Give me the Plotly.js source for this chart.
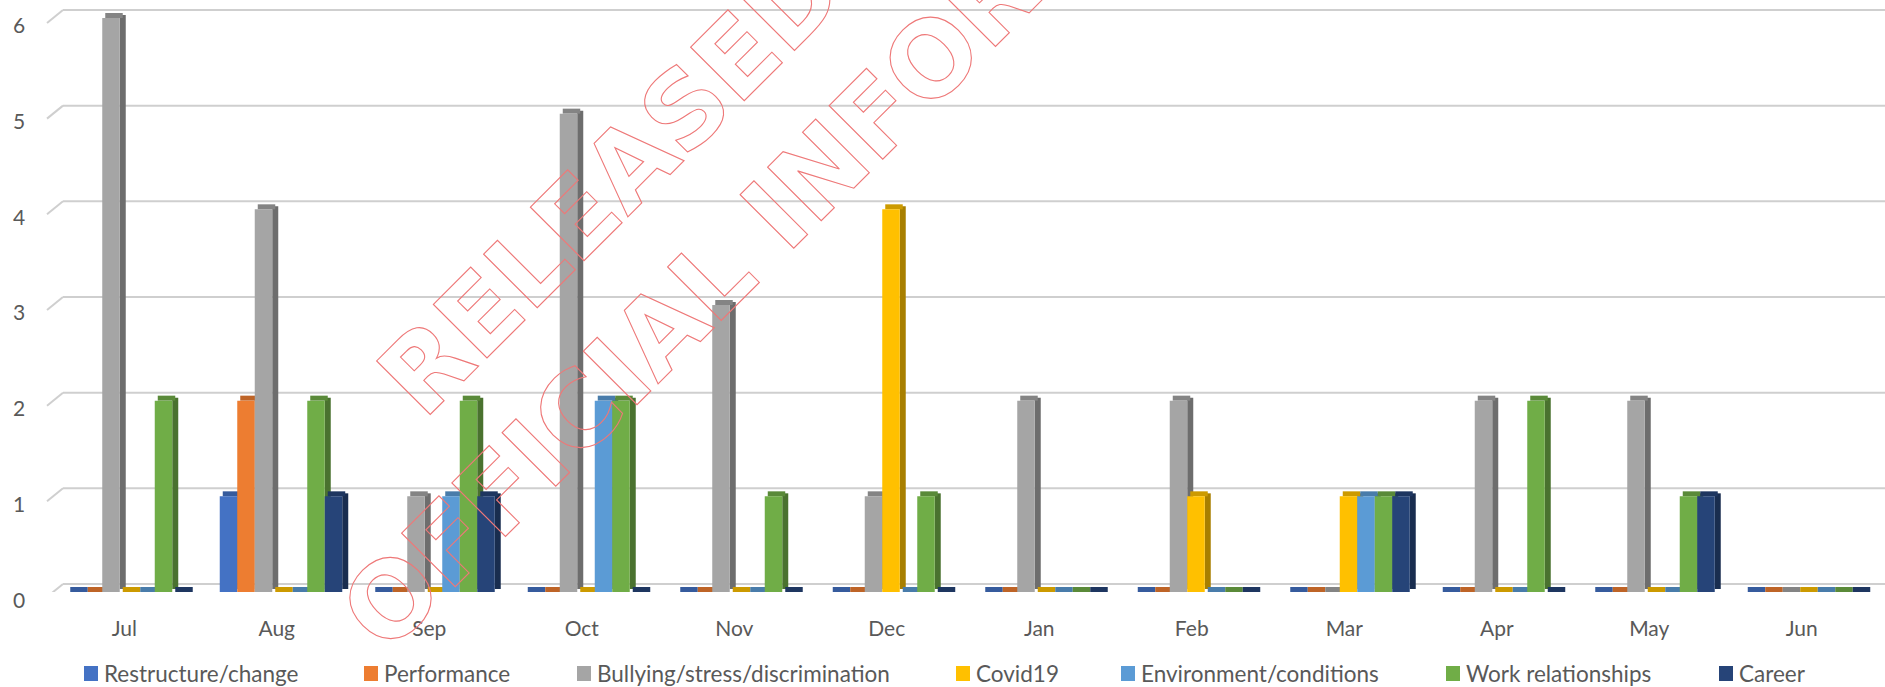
<!DOCTYPE html>
<html><head><meta charset="utf-8">
<script src="https://cdn.plot.ly/plotly-3.0.1.min.js"></script>
<style>html,body{margin:0;padding:0;background:#fff;overflow:hidden;} #chart{width:1885px;height:687px;}</style>
</head><body><div id="chart"></div>
<script>
// ---- data ----
const months = ['Jul','Aug','Sep','Oct','Nov','Dec','Jan','Feb','Mar','Apr','May','Jun'];
const seriesNames = ['Restructure/change','Performance','Bullying/stress/discrimination','Covid19','Environment/conditions','Work relationships','Career'];
const restructureChange = [0,1,0,0,0,0,0,0,0,0,0,0];
const performance       = [0,2,0,0,0,0,0,0,0,0,0,0];
const bullying          = [6,4,1,5,3,1,2,2,0,2,2,0];
const covid19           = [0,0,0,0,0,4,0,1,1,0,0,0];
const environment       = [0,0,1,2,0,0,0,0,1,0,0,0];
const workRelationships = [2,2,2,2,1,1,0,0,1,2,1,0];
const career            = [0,1,1,0,0,0,0,0,1,0,1,0];
const yTickValues = [0,1,2,3,4,5,6];
const watermarkLines = ['RELEASED UNDER THE','OFFICIAL INFORMATION ACT'];

// ---- styling ----
const seriesValues = [restructureChange, performance, bullying, covid19, environment, workRelationships, career];
const frontColors = ['#4472C4','#ED7D31','#A5A5A5','#FFC000','#5B9BD5','#70AD47','#264478'];
function shade(hex, f){
  const n = parseInt(hex.slice(1),16);
  const r = Math.round(((n>>16)&255)*f), g = Math.round(((n>>8)&255)*f), b = Math.round((n&255)*f);
  return 'rgb('+r+','+g+','+b+')';
}
const sideColors = frontColors.map(c => shade(c,0.66));
const topColors = frontColors.map(c => shade(c,0.8));

const W = 1885, H = 687, ML = 55, MR = 0, MT = 0, MB = 95;
const plotW = W - ML - MR, plotH = H - MT - MB;
const yMax = 6.188;
const ppu = plotH / yMax;              // pixels per value unit
const ppc = plotW / months.length;     // pixels per category
const pxX = px => (px - ML) / plotW;   // pixel -> paper x
const pxY = py => (MT + plotH - py) / plotH; // pixel -> paper y
const barPx = 17.5, groupLeftPx = -64, sidePx = 6, topPx = 5;
const bw = barPx / ppc;
const textColor = '#595959';
const fontFam = 'Lato, "Open Sans", sans-serif';

const sideTraces = [], topTraces = [], frontTraces = [];
seriesValues.forEach((vals, i) => {
  const off = (groupLeftPx + i * barPx) / ppc;
  sideTraces.push({type:'bar', x: months, y: vals, base: 3/ppu, offset: off + bw, width: sidePx/ppc,
    marker:{color: sideColors[i], line:{width:0}}, showlegend:false, hoverinfo:'skip'});
  topTraces.push({type:'bar', x: months, y: vals.map(() => topPx/ppu), base: vals, offset: off + 3/ppc, width: bw,
    marker:{color: topColors[i], line:{width:0}}, showlegend:false, hoverinfo:'skip'});
  frontTraces.push({type:'bar', name: seriesNames[i], x: months, y: vals, base: 0, offset: off, width: bw,
    marker:{color: frontColors[i], line:{width:0}}, showlegend:false});
});
const traces = sideTraces.concat(topTraces, frontTraces);

const shapes = [];
const gridColor = '#cfcfcf';
yTickValues.forEach(k => {
  shapes.push({type:'line', layer:'below', xref:'paper', yref:'y', x0: pxX(63), x1: 1, y0: k + 8/ppu, y1: k + 8/ppu, line:{color:gridColor, width:2}});
  shapes.push({type:'line', layer:'below', xref:'paper', yref:'y', x0: pxX(47), x1: pxX(63), y0: k - 5/ppu, y1: k + 8/ppu, line:{color:gridColor, width:2}});
});
// floor front edge
shapes.push({type:'line', layer:'below', xref:'paper', yref:'y', x0: pxX(47), x1: pxX(1880), y0: -2/ppu, y1: -2/ppu, line:{color:gridColor, width:2}});

const annotations = [];
// watermark (two lines)
const wmFont = {family:'"DejaVu Sans", Verdana, sans-serif', weight:'bold', size:104, color:'rgb(238,120,120)'};
annotations.push({text: watermarkLines[0], xref:'paper', yref:'paper', x: pxX(862), y: pxY(-68), xanchor:'center', yanchor:'middle',
  textangle: -45, showarrow:false, font: wmFont});
annotations.push({text: watermarkLines[1], xref:'paper', yref:'paper', x: pxX(946), y: pxY(45), xanchor:'center', yanchor:'middle',
  textangle: -45, showarrow:false, font: wmFont});

// y tick labels
yTickValues.forEach(k => {
  annotations.push({text: String(k), xref:'paper', yref:'y', x: pxX(19), y: k, yshift: -7, xanchor:'center', yanchor:'middle',
    showarrow:false, font:{family: fontFam, size: 21, color: textColor}});
});

// legend
const legendLeft = [84, 364, 577, 956, 1121, 1446, 1719];
seriesNames.forEach((name, i) => {
  shapes.push({type:'rect', xref:'paper', yref:'paper', x0: pxX(legendLeft[i]), x1: pxX(legendLeft[i] + 14),
    y0: pxY(681), y1: pxY(666), fillcolor: frontColors[i], line:{width:0}});
  annotations.push({text: name, xref:'paper', yref:'paper', x: pxX(legendLeft[i] + 18), y: pxY(673), xanchor:'left', yanchor:'middle',
    showarrow:false, font:{family: fontFam, size: 22.5, color: textColor}});
});

const layout = {
  width: W, height: H,
  margin: {l: ML, r: MR, t: MT, b: MB, pad: 0},
  paper_bgcolor: '#ffffff', plot_bgcolor: 'rgba(0,0,0,0)',
  barmode: 'overlay',
  showlegend: false,
  xaxis: {type:'category', range:[-0.5, months.length - 0.5], showgrid:false, zeroline:false, showline:false, ticks:'',
    tickfont:{family: fontFam, size: 21, color: textColor}, ticklabelshift: -7, ticklabelstandoff: 22, fixedrange:true},
  yaxis: {range:[0, yMax], tickvals: yTickValues, showticklabels:false, showgrid:false, zeroline:false, showline:false, ticks:'', fixedrange:true},
  shapes: shapes,
  annotations: annotations,
  hovermode: false
};

Plotly.newPlot('chart', traces, layout, {staticPlot: true, displayModeBar: false}).then(gd => {
  [0, 1].forEach(idx => {
    const t = gd.querySelector('g.annotation[data-index="' + idx + '"] text.annotation-text');
    if (t) {
      t.style.setProperty('fill', 'none');
      t.style.setProperty('stroke', 'rgb(238,120,120)');
      t.style.setProperty('stroke-width', '1.1px');
    }
  });
});
</script>
</body></html>
